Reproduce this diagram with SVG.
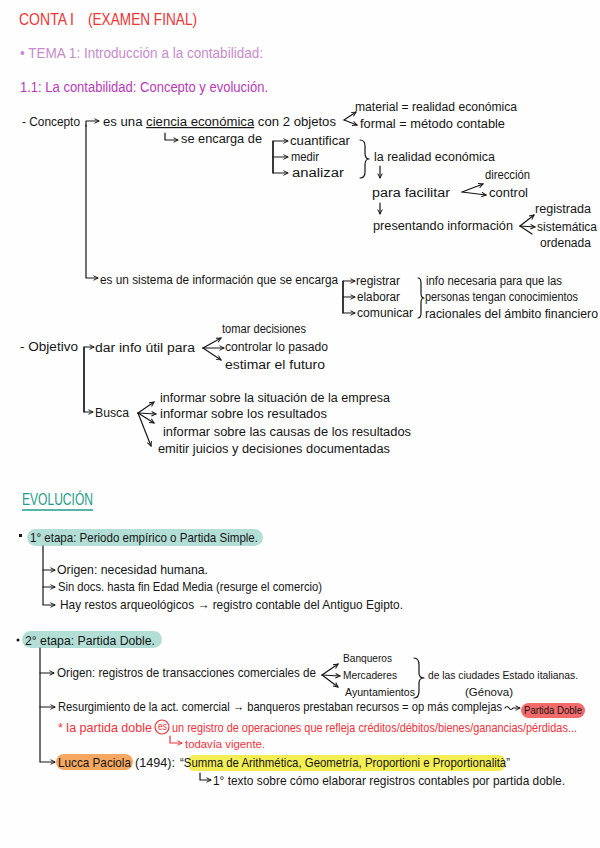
<svg xmlns="http://www.w3.org/2000/svg" width="600" height="848" viewBox="0 0 600 848">
<style>
text{font-family:"Liberation Sans","DejaVu Sans",sans-serif;font-size:12px;fill:#151515}
.ev{font-size:13.5px}
.sm{font-size:11px}
.h1{font-size:17px;fill:#ee3434}
.h2{font-size:15.5px;fill:#c68ccc}
.h3{font-size:15.5px;fill:#b63ab6}
.hev{font-size:16px;fill:#1e9c8b}
.red{fill:#f0323c}
.ln{fill:none;stroke:#151515;stroke-width:1.2;stroke-linecap:round;stroke-linejoin:round}
.ar{marker-end:url(#ah)}
.rl{fill:none;stroke:#f0323c;stroke-width:1.2;stroke-linecap:round;stroke-linejoin:round}
</style>
<defs>
<marker id="ah" viewBox="0 0 8 8" refX="7" refY="4" markerWidth="6" markerHeight="6" orient="auto" markerUnits="userSpaceOnUse"><path d="M1,1 L7,4 L1,7" fill="none" stroke="#151515" stroke-width="1.3"/></marker>
<marker id="ahr" viewBox="0 0 8 8" refX="7" refY="4" markerWidth="6" markerHeight="6" orient="auto" markerUnits="userSpaceOnUse"><path d="M1,1 L7,4 L1,7" fill="none" stroke="#f0323c" stroke-width="1.3"/></marker>
</defs>
<rect width="600" height="848" fill="#fefefe"/>

<g id="headers">
<text class="h1" x="19" y="25" textLength="55" lengthAdjust="spacingAndGlyphs">CONTA I</text>
<text class="h1" x="88" y="25" textLength="109" lengthAdjust="spacingAndGlyphs">(EXAMEN FINAL)</text>
<text class="h2" x="20" y="58" textLength="243" lengthAdjust="spacingAndGlyphs">• TEMA 1: Introducción a la contabilidad:</text>
<text class="h3" x="20" y="92" textLength="248" lengthAdjust="spacingAndGlyphs">1.1: La contabilidad: Concepto y evolución.</text>
</g>

<g id="concepto">
<text x="22" y="126" textLength="58" lengthAdjust="spacingAndGlyphs">- Concepto</text>
<text x="103" y="126" textLength="233" lengthAdjust="spacingAndGlyphs">es una <tspan text-decoration="underline">ciencia económica</tspan> con 2 objetos</text>
<text x="355" y="111" textLength="162" lengthAdjust="spacingAndGlyphs">material = realidad económica</text>
<text x="360" y="128" textLength="145" lengthAdjust="spacingAndGlyphs">formal = método contable</text>
<text x="181" y="143" textLength="81" lengthAdjust="spacingAndGlyphs">se encarga de</text>
<text x="290" y="145" textLength="60" lengthAdjust="spacingAndGlyphs">cuantificar</text>
<text x="291" y="161" textLength="28" lengthAdjust="spacingAndGlyphs">medir</text>
<text x="292" y="177" textLength="52" lengthAdjust="spacingAndGlyphs">analizar</text>
<text x="374" y="161" textLength="121" lengthAdjust="spacingAndGlyphs">la realidad económica</text>
<text x="485" y="179" textLength="45" lengthAdjust="spacingAndGlyphs">dirección</text>
<text x="372" y="197" textLength="78" lengthAdjust="spacingAndGlyphs">para facilitar</text>
<text x="489" y="197" textLength="39" lengthAdjust="spacingAndGlyphs">control</text>
<text x="535" y="213" textLength="56" lengthAdjust="spacingAndGlyphs">registrada</text>
<text x="373" y="230" textLength="140" lengthAdjust="spacingAndGlyphs">presentando información</text>
<text x="537" y="231" textLength="60" lengthAdjust="spacingAndGlyphs">sistemática</text>
<text x="540" y="247" textLength="51" lengthAdjust="spacingAndGlyphs">ordenada</text>
<text x="100" y="284" textLength="238" lengthAdjust="spacingAndGlyphs">es un sistema de información que se encarga</text>
<text x="356" y="285" textLength="44" lengthAdjust="spacingAndGlyphs">registrar</text>
<text x="357" y="301" textLength="43" lengthAdjust="spacingAndGlyphs">elaborar</text>
<text x="357" y="317" textLength="56" lengthAdjust="spacingAndGlyphs">comunicar</text>
<text x="426" y="285" textLength="136" lengthAdjust="spacingAndGlyphs">info necesaria para que las</text>
<text x="425" y="301" textLength="153" lengthAdjust="spacingAndGlyphs">personas tengan conocimientos</text>
<text x="425" y="318" textLength="173" lengthAdjust="spacingAndGlyphs">racionales del ámbito financiero</text>
</g>

<g id="objetivo">
<text x="20" y="351" textLength="58" lengthAdjust="spacingAndGlyphs">- Objetivo</text>
<text x="95" y="352" textLength="100" lengthAdjust="spacingAndGlyphs">dar info útil para</text>
<text x="222" y="333" textLength="84" lengthAdjust="spacingAndGlyphs">tomar decisiones</text>
<text x="225" y="351" textLength="103" lengthAdjust="spacingAndGlyphs">controlar lo pasado</text>
<text x="225" y="369" textLength="100" lengthAdjust="spacingAndGlyphs">estimar el futuro</text>
<text x="95" y="417" textLength="34" lengthAdjust="spacingAndGlyphs">Busca</text>
<text x="160" y="402" textLength="230" lengthAdjust="spacingAndGlyphs">informar sobre la situación de la empresa</text>
<text x="160" y="418" textLength="167" lengthAdjust="spacingAndGlyphs">informar sobre los resultados</text>
<text x="163" y="436" textLength="248" lengthAdjust="spacingAndGlyphs">informar sobre las causas de los resultados</text>
<text x="158" y="453" textLength="232" lengthAdjust="spacingAndGlyphs">emitir juicios y decisiones documentadas</text>
</g>

<g id="evolucion">
<text class="hev" x="22" y="505" textLength="71" lengthAdjust="spacingAndGlyphs">EVOLUCIÓN</text>
<line x1="22" y1="510" x2="93" y2="510" stroke="#1e9c8b" stroke-width="1.6"/>
</g>

<g id="etapa1">
<rect x="19" y="534" width="3" height="3" fill="#151515"/>
<rect x="27" y="529" width="236" height="17" rx="8.5" fill="#b3ded6"/>
<text class="ev" x="30" y="542" textLength="228" lengthAdjust="spacingAndGlyphs">1° etapa: Periodo empírico o Partida Simple.</text>
<text class="ev" x="57" y="574" textLength="151" lengthAdjust="spacingAndGlyphs">Origen: necesidad humana.</text>
<text class="ev" x="58" y="591" textLength="264" lengthAdjust="spacingAndGlyphs">Sin docs. hasta fin Edad Media (resurge el comercio)</text>
<text class="ev" x="60" y="609" textLength="343" lengthAdjust="spacingAndGlyphs">Hay restos arqueológicos → registro contable del Antiguo Egipto.</text>
</g>

<g id="etapa2">
<circle cx="18" cy="640" r="1.5" fill="#151515"/>
<rect x="22" y="631" width="140" height="17" rx="8.5" fill="#b3ded6"/>
<text class="ev" x="25" y="645" textLength="130" lengthAdjust="spacingAndGlyphs">2° etapa: Partida Doble.</text>
<text class="ev" x="57" y="677" textLength="259" lengthAdjust="spacingAndGlyphs">Origen: registros de transacciones comerciales de</text>
<text class="sm" x="343" y="662" textLength="49" lengthAdjust="spacingAndGlyphs">Banqueros</text>
<text class="sm" x="343" y="679" textLength="54" lengthAdjust="spacingAndGlyphs">Mercaderes</text>
<text class="sm" x="345" y="696" textLength="70" lengthAdjust="spacingAndGlyphs">Ayuntamientos</text>
<text class="sm" x="428" y="679" textLength="150" lengthAdjust="spacingAndGlyphs">de las ciudades Estado italianas.</text>
<text class="sm" x="465" y="696" textLength="48" lengthAdjust="spacingAndGlyphs">(Génova)</text>
<text class="ev" x="58" y="711" textLength="444" lengthAdjust="spacingAndGlyphs">Resurgimiento de la act. comercial → banqueros prestaban recursos = op más complejas</text>
<rect x="521" y="703" width="64" height="15" rx="7.5" fill="#f26a6a"/>
<text class="sm" x="524" y="714" textLength="58" lengthAdjust="spacingAndGlyphs">Partida Doble</text>
<text class="ev red" x="58" y="732" textLength="94" lengthAdjust="spacingAndGlyphs">* la partida doble</text>
<circle cx="162" cy="727" r="7" fill="none" stroke="#f0323c" stroke-width="1.2"/>
<text class="sm red" x="158" y="730" textLength="9" lengthAdjust="spacingAndGlyphs">es</text>
<text class="ev red" x="172" y="732" textLength="405" lengthAdjust="spacingAndGlyphs">un registro de operaciones que refleja créditos/débitos/bienes/ganancias/pérdidas...</text>
<text class="sm red" x="185" y="748" textLength="80" lengthAdjust="spacingAndGlyphs">todavía vigente.</text>
<rect x="56" y="754" width="77" height="16" rx="8" fill="#f6a862"/>
<text class="ev" x="58" y="767" textLength="73" lengthAdjust="spacingAndGlyphs">Lucca Paciola</text>
<text class="ev" x="135" y="767" textLength="40" lengthAdjust="spacingAndGlyphs">(1494):</text>
<rect x="188" y="755" width="317" height="16" rx="6" fill="#f4ee55"/>
<text class="ev" x="180" y="767" textLength="330" lengthAdjust="spacingAndGlyphs">“Summa de Arithmética, Geometría, Proportioni e Proportionalità”</text>
<text class="ev" x="213" y="785" textLength="352" lengthAdjust="spacingAndGlyphs">1° texto sobre cómo elaborar registros contables por partida doble.</text>
</g>

<g id="connectors">
<path class="ln ar" d="M86,125 V278 H98"/>
<path class="ln ar" d="M86,126 V121 H99"/>
<path class="ln ar" d="M344,120 L356,112"/>
<path class="ln ar" d="M344,120 L357,125"/>
<path class="ln ar" d="M165,133 V140 H178"/>
<path class="ln ar" d="M273,173 V141 H288"/>
<path class="ln ar" d="M273,141 V173 H288"/>
<path class="ln ar" d="M273,157 H288"/>
<path class="ln" d="M360,140 Q365,140 365,146 V153 Q365,159 369,159 Q365,159 365,165 V172 Q365,178 360,178"/>
<path class="ln ar" d="M380,166 V178"/>
<path class="ln ar" d="M380,203 V214"/>
<path class="ln ar" d="M462,192 L483,184"/>
<path class="ln ar" d="M462,192 L486,195"/>
<path class="ln ar" d="M520,226 L534,215"/>
<path class="ln ar" d="M520,226 L535,227"/>
<path class="ln" d="M520,226 L532,234"/>
<path class="ln ar" d="M343,313 V281 H355"/>
<path class="ln ar" d="M343,281 V313 H355"/>
<path class="ln ar" d="M343,297 H355"/>
<path class="ln" d="M418,278 Q421,278 421,283 V293 Q421,298 424,298 Q421,298 421,303 V313 Q421,318 418,318"/>
<path class="ln ar" d="M84,412 V347 H94"/>
<path class="ln ar" d="M84,347 V412 H93"/>
<path class="ln ar" d="M203,348 L221,338"/>
<path class="ln ar" d="M203,348 L224,348"/>
<path class="ln ar" d="M203,348 L221,360"/>
<path class="ln ar" d="M138,413 L154,402"/>
<path class="ln ar" d="M138,413 L156,414"/>
<path class="ln ar" d="M138,413 L154,423"/>
<path class="ln ar" d="M138,413 L151,446"/>
<path class="ln ar" d="M43,546 V605 H55"/>
<path class="ln ar" d="M43,570 H55"/>
<path class="ln ar" d="M43,587 H55"/>
<path class="ln ar" d="M40,648 V762 H55"/>
<path class="ln ar" d="M40,673 H54"/>
<path class="ln ar" d="M40,707 H55"/>
<path class="ln ar" d="M322,675 L338,664"/>
<path class="ln ar" d="M322,675 L340,676"/>
<path class="ln ar" d="M322,675 L338,687"/>
<path class="ln" d="M414,658 Q419,658 419,665 V673 Q419,678 424,678 Q419,678 419,683 V691 Q419,698 414,698"/>
<path class="ln ar" d="M505,708 q2,-3 4,0 t4,0 H520"/>
<path class="rl" style="marker-end:url(#ahr)" d="M170,736 V743 H182"/>
<path class="ln ar" d="M200,773 V780 H211"/>
</g>
</svg>
